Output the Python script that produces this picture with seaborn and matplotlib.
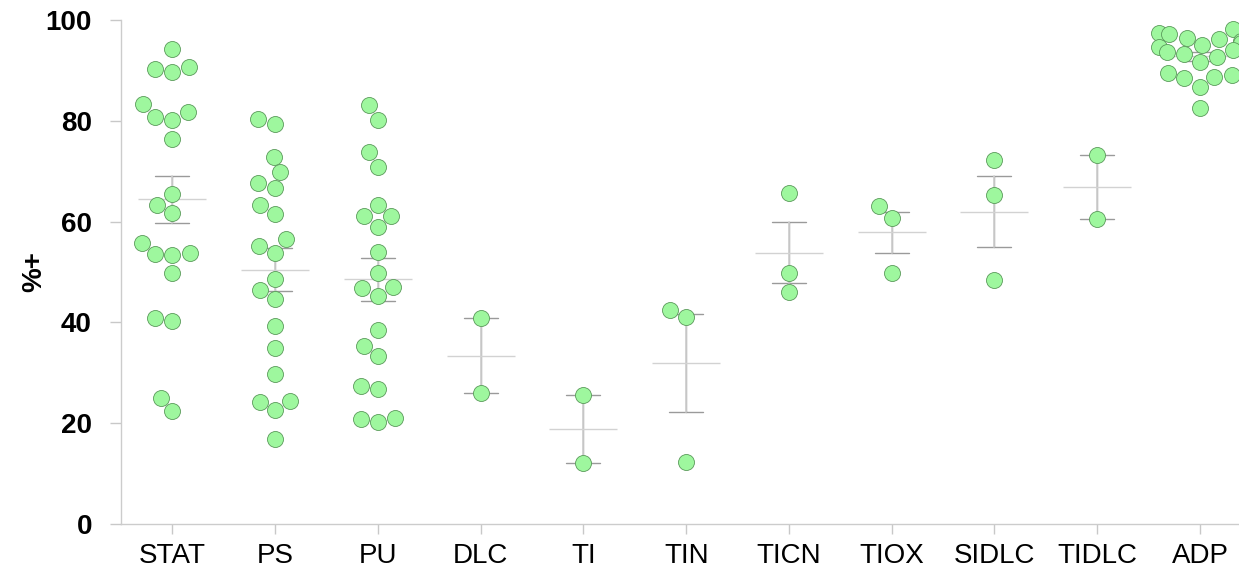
import matplotlib
matplotlib.use("Agg")
import matplotlib.pyplot as plt
import seaborn as sns
import pandas as pd

# values (% positive)
categories = ["STAT", "PS", "PU", "DLC", "TI", "TIN", "TICN", "TIOX", "SIDLC", "TIDLC", "ADP"]
stat = [94.2, 90.2, 89.7, 90.7, 80.2, 81.8, 83.3, 80.8, 76.4, 65.5, 61.8,
        63.3, 55.8, 53.7, 53.3, 53.5, 49.9, 40.8, 40.3, 22.4, 25.0]
ps = [80.3, 79.4, 72.9, 69.8, 67.6, 66.6, 63.2, 61.5, 55.2, 53.8, 56.5,
      48.7, 46.4, 44.7, 39.3, 35.0, 29.8, 24.3, 24.4, 22.6, 16.8]
pu = [83.1, 80.2, 73.8, 70.9, 63.3, 61.2, 61.1, 59.0, 53.9, 49.8, 47.1,
      46.9, 45.3, 38.5, 35.4, 33.4, 27.4, 26.8, 21.1, 20.9, 20.2]
dlc = [40.8, 25.9]
ti = [25.6, 12.2]
tin = [42.4, 41.1, 12.4]
ticn = [65.7, 49.9, 46.0]
tiox = [63.1, 60.7, 49.9]
sidlc = [72.2, 65.3, 48.4]
tidlc = [73.2, 60.5]
adp = [97.4, 98.2, 97.2, 96.5, 96.2, 95.8, 95.5, 95.0, 94.6, 94.0,
       93.6, 93.2, 92.7, 91.7, 89.4, 88.7, 88.4, 89.1, 86.8, 82.5]

groups = [stat, ps, pu, dlc, ti, tin, ticn, tiox, sidlc, tidlc, adp]
df = pd.DataFrame({
    "group": [c for c, g in zip(categories, groups) for _ in g],
    "value": [v for g in groups for v in g],
})

sns.set_style("white")
plt.rcParams["font.family"] = ["Liberation Sans", "DejaVu Sans"]
plt.rcParams["text.color"] = "black"
plt.rcParams["axes.labelcolor"] = "black"

fig = plt.figure(figsize=(12.39, 5.72), dpi=100)
ax = fig.add_axes([0.0977, 0.0839, 0.9023, 0.8811])

# mean +/- SEM: caps in darker gray, stem in light gray, mean as a wide dash
sns.pointplot(data=df, x="group", y="value", order=categories, errorbar="se",
              capsize=0.33, color="#9a9a9a", linestyle="none", marker="",
              err_kws={"linewidth": 1.0}, ax=ax)
sns.pointplot(data=df, x="group", y="value", order=categories, errorbar="se",
              capsize=0, color="#cfcfcf", linestyle="none", marker="",
              err_kws={"linewidth": 1.2}, ax=ax)
sns.pointplot(data=df, x="group", y="value", order=categories, errorbar=None,
              color="#d2d2d2", linestyle="none", marker="_", markersize=49,
              markeredgewidth=1.0, ax=ax)

sns.swarmplot(data=df, x="group", y="value", order=categories, size=11.5,
              color="#9ef79e", edgecolor="#5a9a5a", linewidth=0.6,
              zorder=3, ax=ax)

ax.set_ylim(0, 100)
ax.set_xlim(-0.5, 10.38)
ax.set_yticks([0, 20, 40, 60, 80, 100])
ax.set_xlabel("")
ax.set_ylabel("%+", fontsize=20, fontweight="bold", labelpad=-1)

for s in ["top", "right"]:
    ax.spines[s].set_visible(False)
for s in ["left", "bottom"]:
    ax.spines[s].set_color("#cccccc")
    ax.spines[s].set_linewidth(1.0)

# the white style hides tick marks, turn them back on
ax.tick_params(axis="y", left=True, length=8, width=1, color="#c8c8c8",
               pad=13, labelsize=20, labelcolor="black")
ax.tick_params(axis="x", bottom=True, length=7.5, width=1, color="#c8c8c8",
               pad=6, labelsize=20, labelcolor="black")
for lbl in ax.get_yticklabels():
    lbl.set_fontweight("bold")

fig.savefig("out.png", dpi=100)
